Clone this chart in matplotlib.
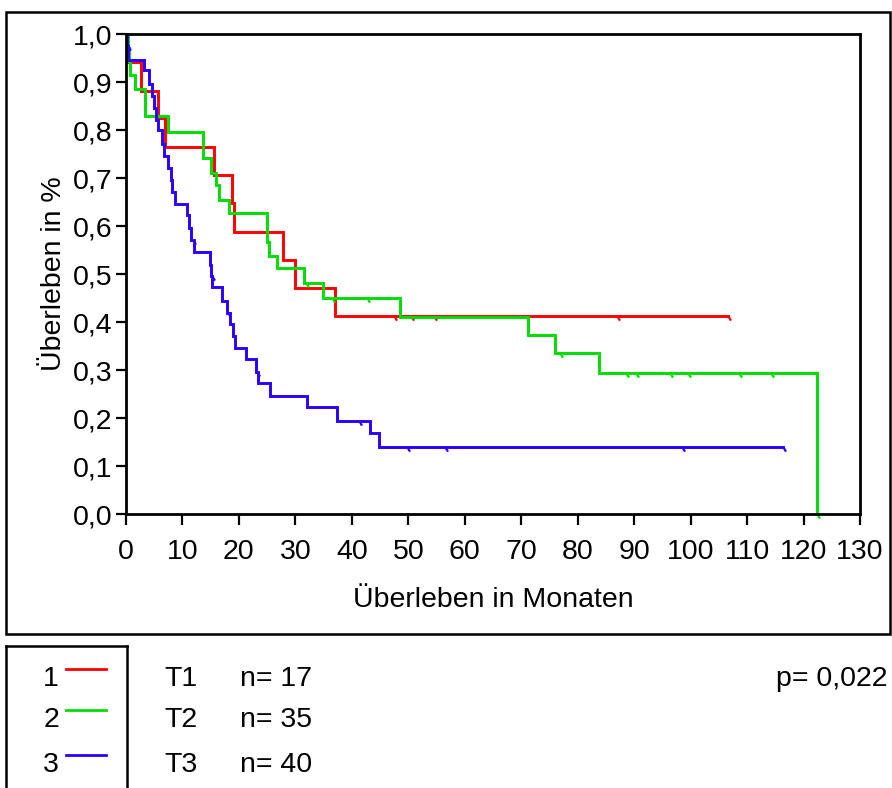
import matplotlib
matplotlib.use("Agg")
import matplotlib.pyplot as plt
from matplotlib.path import Path
from matplotlib.lines import Line2D
from matplotlib.patches import Rectangle

plt.rcParams['font.family'] = ['Liberation Sans', 'DejaVu Sans']

# Kaplan-Meier step curves: event times (months) and survival after each event
t1_times = [0.4, 2.7, 5.6, 6.9, 15.5, 18.8, 19.2, 27.8, 30.0, 37.1]
t1_surv = [0.941, 0.882, 0.824, 0.765, 0.706, 0.647, 0.588, 0.529, 0.471, 0.412]
t1_end = 106.7
t1_censor = [47.4, 50.4, 54.5, 70.9, 86.9, 106.7]

t2_times = [0.3, 0.6, 0.7, 1.55, 3.4, 7.5, 13.7, 15.0, 16.0, 16.4, 18.3,
            25.0, 25.3, 26.8, 31.5, 34.9, 48.5, 71.2, 76.0, 83.7, 122.4]
t2_surv = [0.971, 0.943, 0.914, 0.886, 0.829, 0.795, 0.741, 0.711, 0.685,
           0.655, 0.628, 0.567, 0.538, 0.512, 0.482, 0.451, 0.411, 0.373,
           0.335, 0.294, 0.0]
t2_end = 122.4
t2_censor = [31.8, 36.5, 42.6, 76.8, 88.6, 90.4, 96.3, 99.6, 108.5, 114.3, 122.4]

t3_times = [0.1, 0.4, 3.1, 4.1, 4.6, 5.0, 5.3, 5.7, 6.3, 6.8, 7.5, 7.9, 8.2,
            8.6, 10.8, 11.1, 11.5, 12.1, 14.9, 15.1, 15.3, 17.0, 17.8, 18.4,
            18.9, 19.3, 21.2, 23.0, 23.3, 25.5, 32.1, 37.3, 43.3, 44.8]
t3_surv = [0.975, 0.946, 0.924, 0.895, 0.870, 0.846, 0.820, 0.800, 0.770,
           0.745, 0.720, 0.695, 0.670, 0.646, 0.623, 0.595, 0.570, 0.546,
           0.519, 0.495, 0.472, 0.444, 0.419, 0.396, 0.371, 0.345, 0.323,
           0.296, 0.272, 0.246, 0.222, 0.194, 0.169, 0.140]
t3_end = 116.3
t3_censor = [0.3, 11.9, 15.2, 18.1, 23.2, 41.3, 49.7, 56.5, 98.4, 116.3]

group_ids = ["1", "2", "3"]
group_names = ["T1", "T2", "T3"]
group_n = [17, 35, 40]
p_text = "p= 0,022"
colors = ["#ff0000", "#00dd00", "#2a00ff"]

x_ticks = list(range(0, 131, 10))
y_ticks = [i / 10 for i in range(11)]
y_ticklabels = [f"{v:.1f}".replace(".", ",") for v in y_ticks]

FS = 20.5
W, H = 892, 788
fig = plt.figure(figsize=(W / 100, H / 100), dpi=100)


def fx(px):
    return px / W


def fy(py):
    return 1 - py / H


ax = fig.add_axes([fx(126), fy(514), fx(860) - fx(126), fy(34) - fy(514)])

censor_marker = Path([(0, 0), (0.6, -1.0)], [Path.MOVETO, Path.LINETO])


def surv_at(times, surv, t):
    s = 1.0
    for ti, si in zip(times, surv):
        if ti <= t:
            s = si
    return s


curves = [
    (t1_times, t1_surv, t1_end, t1_censor),
    (t2_times, t2_surv, t2_end, t2_censor),
    (t3_times, t3_surv, t3_end, t3_censor),
]
for (times, surv, end, cens), col in zip(curves, colors):
    xs = [0.0] + list(times) + [end]
    ys = [1.0] + list(surv) + [surv[-1]]
    ax.step(xs, ys, where="post", color=col, lw=2.1, clip_on=False,
            solid_joinstyle="miter")
    cy = [surv_at(times, surv, c) for c in cens]
    ax.plot(cens, cy, linestyle="none", marker=censor_marker, markersize=6,
            markeredgewidth=1.6, markeredgecolor=col, color=col, clip_on=False)

ax.set_xlim(0, 130)
ax.set_ylim(0, 1.0)
ax.set_xticks(x_ticks)
ax.set_xticklabels([str(v) for v in x_ticks])
ax.set_yticks(y_ticks)
ax.set_yticklabels(y_ticklabels)
for s in ax.spines.values():
    s.set_linewidth(2.0)
ax.tick_params(axis="both", direction="out", width=1.6, colors="black",
               labelsize=FS)
ax.tick_params(axis="x", length=8, pad=10)
ax.tick_params(axis="y", length=7, pad=3)
ax.set_xlabel("Überleben in Monaten", fontsize=FS, labelpad=16)
ax.set_ylabel("Überleben in %", fontsize=FS, labelpad=4)

# outer frame around the plot area
fig.patches.append(Rectangle((fx(6), fy(634)), fx(890) - fx(6), fy(12) - fy(634),
                             transform=fig.transFigure, fill=False,
                             edgecolor="black", lw=1.8))

# legend box (open at the bottom)
for xa, ya, xb, yb in [(6, 646, 127, 646), (6, 646, 6, 790), (127, 646, 127, 790)]:
    fig.lines.append(Line2D([fx(xa), fx(xb)], [fy(ya), fy(yb)],
                            transform=fig.transFigure, color="black", lw=1.8))

row_y = [679, 720, 765]
for gid, name, n, col, ry in zip(group_ids, group_names, group_n, colors, row_y):
    fig.text(fx(59), fy(ry), gid, ha="right", va="center", fontsize=FS)
    fig.lines.append(Line2D([fx(66), fx(106)], [fy(ry - 10), fy(ry - 10)],
                            transform=fig.transFigure, color=col, lw=2.0))
    fig.text(fx(164), fy(ry), name, ha="left", va="center", fontsize=FS)
    fig.text(fx(240), fy(ry), f"n= {n}", ha="left", va="center", fontsize=FS)

fig.text(fx(888), fy(679), p_text, ha="right", va="center", fontsize=FS)

fig.savefig("out.png", dpi=100)
